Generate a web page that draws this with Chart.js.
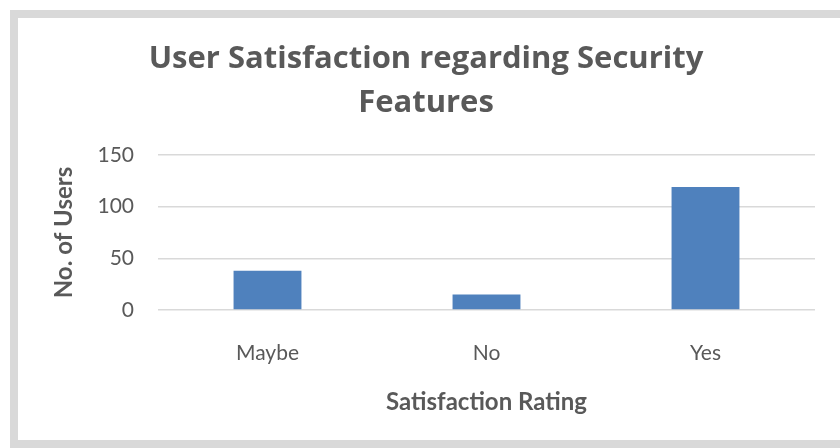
<!DOCTYPE html>
<html>
    <head>
        <meta charset="UTF-8" />
        <title>User Satisfaction regarding Security Features</title>
        <style type="text/css">
            body {
                margin: 0;
                background: #ffffff;
            }
            .frame {
                position: absolute;
                left: 10px;
                top: 10px;
                width: 850px;
                height: 422px;
                border: 8px solid #d9d9d9;
            }
            .chartBox {
                position: absolute;
                left: 0;
                top: 0;
                width: 840px;
                height: 448px;
            }
        </style>
    </head>
    <body>
        <div class="frame"></div>
        <div class="chartBox">
            <canvas id="myChart"></canvas>
        </div>

        <script src="https://cdn.jsdelivr.net/npm/chart.js"></script>
        <script>
            // data
            const categories = ['Maybe', 'No', 'Yes'];
            const users = [38, 15, 119];
            const yTicks = [0, 50, 100, 150];

            const textColor = '#595959';

            const data = {
                labels: categories,
                datasets: [{
                    label: 'No. of Users',
                    data: users,
                    backgroundColor: '#4f81bd',
                    borderWidth: 0,
                    categoryPercentage: 1.0,
                    barPercentage: 0.31
                }]
            };

            const config = {
                type: 'bar',
                data,
                options: {
                    responsive: true,
                    maintainAspectRatio: false,
                    animation: false,
                    layout: {
                        // left padding keeps the title centred on the whole frame
                        padding: { left: 37, right: 25, top: 0, bottom: 0 }
                    },
                    plugins: {
                        legend: { display: false },
                        tooltip: { enabled: false },
                        title: {
                            display: true,
                            text: ['User Satisfaction regarding Security', 'Features'],
                            color: textColor,
                            font: { family: 'Open Sans', size: 31, weight: 'bold', lineHeight: 1.42 },
                            padding: { top: 37, bottom: 30 }
                        }
                    },
                    scales: {
                        x: {
                            grid: { display: false, drawTicks: false },
                            border: { display: false },
                            ticks: {
                                color: textColor,
                                font: { family: 'Lato', size: 21 },
                                padding: 31
                            },
                            title: {
                                display: true,
                                text: 'Satisfaction Rating',
                                color: textColor,
                                font: { family: 'Lato', size: 24, weight: 'bold' },
                                padding: { top: 0, bottom: 31 }
                            },
                            afterFit: function(scale) {
                                scale.height = 138;
                            }
                        },
                        y: {
                            min: 0,
                            max: 150,
                            grid: { color: '#d9d9d9', lineWidth: 1.5, drawTicks: false },
                            border: { display: false },
                            afterBuildTicks: function(scale) {
                                scale.ticks = yTicks.map(v => ({ value: v }));
                            },
                            ticks: {
                                color: textColor,
                                font: { family: 'Lato', size: 21 },
                                padding: 24
                            },
                            title: {
                                display: true,
                                text: 'No. of Users',
                                color: textColor,
                                font: { family: 'Lato', size: 24, weight: 'bold' },
                                padding: { top: 13, bottom: 0 }
                            },
                            afterFit: function(scale) {
                                scale.width = 121;
                            }
                        }
                    }
                }
            };

            const myChart = new Chart(document.getElementById('myChart'), config);
        </script>
    </body>
</html>
